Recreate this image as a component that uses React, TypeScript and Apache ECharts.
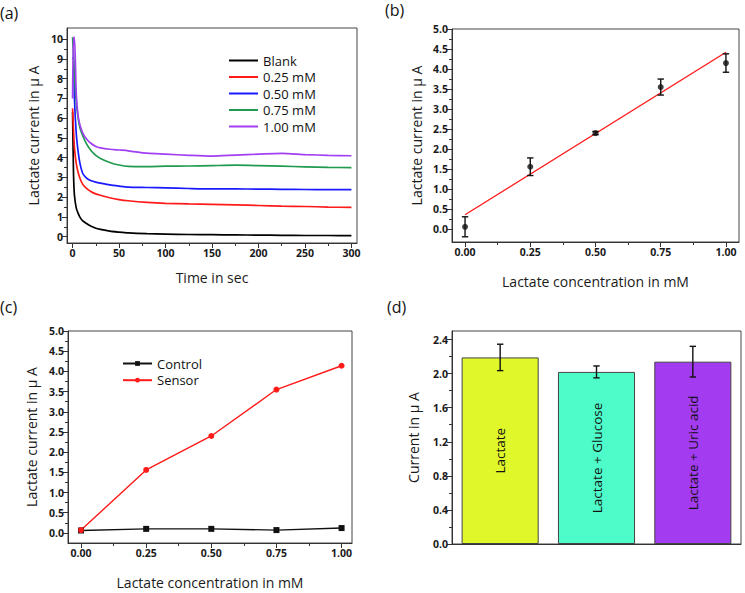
import React, { useEffect, useRef } from "react";
import * as echarts from "echarts";

const FONT = '"Open Sans", "DejaVu Sans", sans-serif';

// Panel (a): amperometric response vs time
const timeSec = [0, 1, 2, 4, 6, 8, 11, 15, 20, 25, 30, 40, 50, 60, 80, 100, 125, 150, 175, 200, 225, 250, 275, 300];
const blankCurve = [6.3, 3.2, 2.1, 1.45, 1.18, 0.98, 0.8, 0.67, 0.53, 0.43, 0.37, 0.28, 0.23, 0.19, 0.15, 0.13, 0.11, 0.1, 0.09, 0.08, 0.07, 0.06, 0.06, 0.05];
const curve025 = [6.5, 5.4, 4.5, 3.7, 3.25, 2.95, 2.65, 2.45, 2.28, 2.17, 2.1, 1.97, 1.88, 1.82, 1.74, 1.69, 1.66, 1.64, 1.61, 1.58, 1.55, 1.53, 1.5, 1.48];
const curve050 = [9.0, 9.1, 7.0, 5.2, 4.3, 3.7, 3.2, 2.97, 2.83, 2.76, 2.71, 2.62, 2.56, 2.51, 2.49, 2.47, 2.44, 2.42, 2.42, 2.41, 2.4, 2.39, 2.38, 2.38];
const curve075 = [10.1, 9.2, 8.2, 6.8, 6.0, 5.5, 5.1, 4.7, 4.35, 4.12, 3.96, 3.76, 3.63, 3.56, 3.55, 3.57, 3.58, 3.6, 3.62, 3.6, 3.57, 3.54, 3.51, 3.5];
const curve100 = [7.0, 10.1, 10.1, 7.2, 6.1, 5.65, 5.25, 4.95, 4.72, 4.57, 4.5, 4.43, 4.39, 4.35, 4.23, 4.18, 4.12, 4.08, 4.13, 4.18, 4.22, 4.16, 4.12, 4.1];
const curveNames = ["Blank", "0.25 mM", "0.50 mM", "0.75 mM", "1.00 mM"];
const curveColors = ["#000000", "#ff1a1a", "#1a1aff", "#1f9a4e", "#a13ff2"];
const aTicksX = [0, 50, 100, 150, 200, 250, 300];
const aMinorX = [25, 75, 125, 175, 225, 275];
const aTicksY = [0, 1, 2, 3, 4, 5, 6, 7, 8, 9, 10];
const aMinorY = [0.5, 1.5, 2.5, 3.5, 4.5, 5.5, 6.5, 7.5, 8.5, 9.5];

// Panel (b): calibration
const concentration = [0, 0.25, 0.5, 0.75, 1.0];
const meanCurrent = [0.06, 1.56, 2.4, 3.55, 4.15];
const errCurrent = [0.25, 0.22, 0.04, 0.2, 0.23];
const fitIntercept = 0.36;
const fitSlope = 4.06;

// Panel (c): control vs sensor
const controlCurrent = [0.06, 0.1, 0.1, 0.07, 0.12];
const sensorCurrent = [0.07, 1.56, 2.4, 3.55, 4.14];

const concTicks = [0, 0.25, 0.5, 0.75, 1.0];
const concMinor = [0.125, 0.375, 0.625, 0.875];
const currTicks = [0, 0.5, 1.0, 1.5, 2.0, 2.5, 3.0, 3.5, 4.0, 4.5, 5.0];
const currMinor = [0.25, 0.75, 1.25, 1.75, 2.25, 2.75, 3.25, 3.75, 4.25, 4.75];

// Panel (d): interference
const interfCategories = ["Lactate", "Lactate + Glucose", "Lactate + Uric acid"];
const interfMean = [2.19, 2.02, 2.14];
const interfErr = [0.155, 0.07, 0.18];
const interfColors = ["#e0f72a", "#4dfcc8", "#a33cf0"];
const dTicksY = [0, 0.4, 0.8, 1.2, 1.6, 2.0, 2.4];
const dMinorY = [0.2, 0.6, 1.0, 1.4, 1.8, 2.2];

const AXIS_COLOR = "#333";
const LABEL_STYLE = { color: "#1a1a1a", fontFamily: FONT, fontSize: 10.5, fontWeight: "bold" as const };
const NAME_STYLE = { color: "#1a1a1a", fontFamily: FONT, fontSize: 14 };

function mainValueAxis(opts: any) {
  return {
    type: "value",
    gridIndex: opts.grid,
    min: opts.min,
    max: opts.max,
    position: opts.position,
    name: opts.name,
    nameLocation: "middle",
    nameGap: opts.nameGap,
    nameTextStyle: NAME_STYLE,
    axisLine: { show: true, onZero: false, lineStyle: { color: AXIS_COLOR, width: 1 } },
    axisTick: { show: true, inside: false, length: 5, customValues: opts.ticks, lineStyle: { color: AXIS_COLOR } },
    axisLabel: {
      show: true,
      customValues: opts.ticks,
      formatter: opts.fmt,
      margin: 4,
      ...LABEL_STYLE,
    },
    splitLine: { show: false },
  };
}

function minorValueAxis(opts: any) {
  return {
    type: "value",
    gridIndex: opts.grid,
    min: opts.min,
    max: opts.max,
    position: opts.position,
    axisLine: { show: false, onZero: false },
    axisTick: { show: true, inside: false, length: 3, customValues: opts.ticks, lineStyle: { color: AXIS_COLOR } },
    axisLabel: { show: false },
    splitLine: { show: false },
  };
}

function errorBarSeries(xIdx: number, yIdx: number, xs: any[], means: number[], errs: number[], cap: number) {
  return {
    type: "custom",
    xAxisIndex: xIdx,
    yAxisIndex: yIdx,
    z: 5,
    data: xs.map((x, i) => [x, means[i] - errs[i], means[i] + errs[i]]),
    encode: { x: 0, y: [1, 2] },
    renderItem: (_params: any, api: any) => {
      const lo = api.coord([api.value(0), api.value(1)]);
      const hi = api.coord([api.value(0), api.value(2)]);
      const st = { stroke: "#111", lineWidth: 1.4 };
      return {
        type: "group",
        children: [
          { type: "line", shape: { x1: lo[0], y1: lo[1], x2: hi[0], y2: hi[1] }, style: st },
          { type: "line", shape: { x1: lo[0] - cap, y1: lo[1], x2: lo[0] + cap, y2: lo[1] }, style: st },
          { type: "line", shape: { x1: hi[0] - cap, y1: hi[1], x2: hi[0] + cap, y2: hi[1] }, style: st },
        ],
      };
    },
  };
}

export default function App() {
  const ref = useRef<HTMLDivElement>(null);
  useEffect(() => {
    if (!ref.current) return;
    const chart = echarts.init(ref.current, null, { renderer: "svg" });
    const curves = [blankCurve, curve025, curve050, curve075, curve100];
    const fix1 = (v: number) => v.toFixed(1);
    const fix2 = (v: number) => v.toFixed(2);
    const fix0 = (v: number) => String(Math.round(v));

    const gridBox = { show: true, borderColor: "#444", borderWidth: 1, backgroundColor: "transparent" };
    const titleStyle = { fontFamily: FONT, fontSize: 16, fontWeight: "normal", color: "#111" };

    const option: any = {
      animation: false,
      backgroundColor: "#ffffff",
      title: [
        { text: "(a)", left: 0, top: 5, padding: 0, textStyle: titleStyle },
        { text: "(b)", left: 385, top: 2, padding: 0, textStyle: titleStyle },
        { text: "(c)", left: 0, top: 299, padding: 0, textStyle: titleStyle },
        { text: "(d)", left: 387, top: 299, padding: 0, textStyle: titleStyle },
      ],
      legend: [
        {
          data: curveNames.map((n) => ({ name: n, icon: "rect" })),
          orient: "vertical",
          left: 229,
          top: 54,
          padding: 0,
          itemWidth: 29,
          itemHeight: 2,
          itemGap: 3.5,
          textStyle: { fontFamily: FONT, fontSize: 13, color: "#111" },
        },
        {
          data: ["Control", "Sensor"],
          orient: "vertical",
          left: 122,
          top: 357,
          padding: 0,
          itemWidth: 29,
          itemHeight: 6,
          itemGap: 3.7,
          textStyle: { fontFamily: FONT, fontSize: 13, color: "#111" },
        },
      ],
      grid: [
        { left: 67, top: 28, width: 290, height: 215, ...gridBox },
        { left: 452, top: 29, width: 287, height: 213, ...gridBox },
        { left: 68, top: 331, width: 284, height: 212, ...gridBox },
        { left: 452, top: 331, width: 289, height: 213, ...gridBox },
      ],
      xAxis: [
        mainValueAxis({ grid: 0, min: -6, max: 306, position: "bottom", ticks: aTicksX, fmt: fix0, name: "Time in sec", nameGap: 27 }),
        minorValueAxis({ grid: 0, min: -6, max: 306, position: "bottom", ticks: aMinorX }),
        mainValueAxis({ grid: 1, min: -0.05, max: 1.05, position: "bottom", ticks: concTicks, fmt: fix2, name: "Lactate concentration in mM", nameGap: 32 }),
        minorValueAxis({ grid: 1, min: -0.05, max: 1.05, position: "bottom", ticks: concMinor }),
        mainValueAxis({ grid: 2, min: -0.05, max: 1.04, position: "bottom", ticks: concTicks, fmt: fix2, name: "Lactate concentration in mM", nameGap: 32 }),
        minorValueAxis({ grid: 2, min: -0.05, max: 1.04, position: "bottom", ticks: concMinor }),
        {
          type: "category",
          gridIndex: 3,
          data: interfCategories,
          position: "bottom",
          axisLine: { show: true, onZero: false, lineStyle: { color: AXIS_COLOR } },
          axisTick: { show: false },
          axisLabel: { show: false },
          splitLine: { show: false },
        },
      ],
      yAxis: [
        mainValueAxis({ grid: 0, min: -0.32, max: 10.57, position: "left", ticks: aTicksY, fmt: fix0, name: "Lactate current in \u00B5 A", nameGap: 27 }),
        minorValueAxis({ grid: 0, min: -0.32, max: 10.57, position: "left", ticks: aMinorY }),
        mainValueAxis({ grid: 1, min: -0.32, max: 5.0, position: "left", ticks: currTicks, fmt: fix1, name: "Lactate current in \u00B5 A", nameGap: 29 }),
        minorValueAxis({ grid: 1, min: -0.32, max: 5.0, position: "left", ticks: currMinor }),
        mainValueAxis({ grid: 2, min: -0.25, max: 5.0, position: "left", ticks: currTicks, fmt: fix1, name: "Lactate current in \u00B5 A", nameGap: 30 }),
        minorValueAxis({ grid: 2, min: -0.25, max: 5.0, position: "left", ticks: currMinor }),
        mainValueAxis({ grid: 3, min: 0, max: 2.5, position: "left", ticks: dTicksY, fmt: fix1, name: "Current in \u00B5 A", nameGap: 32 }),
        minorValueAxis({ grid: 3, min: 0, max: 2.5, position: "left", ticks: dMinorY }),
      ],
      series: [
        ...curves.map((c, i) => ({
          type: "line",
          name: curveNames[i],
          xAxisIndex: 0,
          yAxisIndex: 0,
          data: timeSec.map((t, j) => [t, c[j]]),
          symbol: "none",
          smooth: 0.25,
          lineStyle: { color: curveColors[i], width: 1.7 },
          itemStyle: { color: curveColors[i] },
        })),
        {
          type: "line",
          name: "fit",
          xAxisIndex: 2,
          yAxisIndex: 2,
          data: [
            [concentration[0], fitIntercept + fitSlope * concentration[0]],
            [concentration[concentration.length - 1], fitIntercept + fitSlope * concentration[concentration.length - 1]],
          ],
          symbol: "none",
          lineStyle: { color: "#ff1a1a", width: 1.4 },
          z: 3,
        },
        errorBarSeries(2, 2, concentration, meanCurrent, errCurrent, 3.2),
        {
          type: "scatter",
          name: "mean",
          xAxisIndex: 2,
          yAxisIndex: 2,
          data: concentration.map((x, i) => [x, meanCurrent[i]]),
          symbol: "circle",
          symbolSize: 6,
          itemStyle: { color: "#111" },
          z: 6,
        },
        {
          type: "line",
          name: "Control",
          xAxisIndex: 4,
          yAxisIndex: 4,
          data: concentration.map((x, i) => [x, controlCurrent[i]]),
          symbol: "rect",
          symbolSize: 6,
          showSymbol: true,
          lineStyle: { color: "#111", width: 1.4 },
          itemStyle: { color: "#111" },
        },
        {
          type: "line",
          name: "Sensor",
          xAxisIndex: 4,
          yAxisIndex: 4,
          data: concentration.map((x, i) => [x, sensorCurrent[i]]),
          symbol: "circle",
          symbolSize: 6,
          showSymbol: true,
          lineStyle: { color: "#ff1a1a", width: 1.4 },
          itemStyle: { color: "#ff1a1a" },
        },
        {
          type: "bar",
          name: "interference",
          xAxisIndex: 6,
          yAxisIndex: 6,
          barWidth: "80%",
          data: interfMean.map((v, i) => ({
            value: v,
            itemStyle: { color: interfColors[i], borderColor: "#444", borderWidth: 1 },
          })),
          label: {
            show: true,
            position: "inside",
            rotate: 90,
            formatter: (p: any) => interfCategories[p.dataIndex],
            fontFamily: FONT,
            fontSize: 13.5,
            color: "#111",
          },
        },
        errorBarSeries(6, 6, [0, 1, 2], interfMean, interfErr, 3.2),
      ],
    };
    chart.setOption(option);
    return () => chart.dispose();
  }, []);
  return <div ref={ref} style={{ position: "fixed", left: 0, top: 0, width: 745, height: 593 }} />;
}
